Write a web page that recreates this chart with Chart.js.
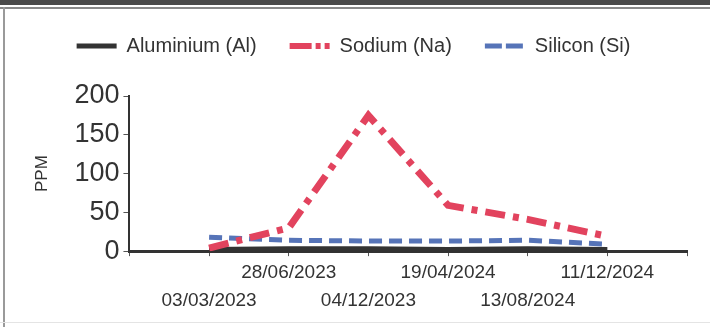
<!DOCTYPE html>
<html>
<head>
<meta charset="utf-8">
<script src="https://cdn.jsdelivr.net/npm/chart.js@4/dist/chart.umd.min.js"></script>
<style>
  html, body { margin: 0; padding: 0; background: #fff; }
  #wrap { position: relative; width: 710px; height: 327px; overflow: hidden; }
  #topband { position: absolute; left: 0; top: 0; width: 710px; height: 5px; background: #4a4a4a; }
  #topline { position: absolute; left: 0; top: 7px; width: 710px; height: 2px; background: #8a8a8a; }
  #leftline { position: absolute; left: 3px; top: 7px; width: 2px; height: 320px; background: #9a9a9a; }
  #bottomline { position: absolute; left: 0; top: 322px; width: 710px; height: 1px; background: #e4e4e4; }
  canvas { position: absolute; left: 0; top: 0; }
</style>
</head>
<body>
<div id="wrap">
  <div id="topband"></div>
  <div id="topline"></div>
  <div id="leftline"></div>
  <div id="bottomline"></div>
  <canvas id="c" width="710" height="327"></canvas>
</div>
<script>
const dates = ['03/03/2023', '28/06/2023', '04/12/2023', '19/04/2024', '13/08/2024', '11/12/2024'];
const aluminium = [2, 3, 3, 2, 3, 2];
const sodium = [4, 30, 175, 59, 41, 19];
const silicon = [18, 14, 13, 13, 14, 9];
const yTicks = [0, 50, 100, 150, 200];

// pad with an empty category on each side (the axis extends one slot beyond the data)
const labels = [''].concat(dates, ['']);
const pad = arr => [null].concat(arr, [null]);

// legend sample swatches (dashed lines) drawn as small canvases
function swatch(color, width, dash) {
  const cv = document.createElement('canvas');
  cv.width = 42; cv.height = 8;
  const g = cv.getContext('2d');
  g.strokeStyle = color; g.lineWidth = width; g.lineCap = 'butt';
  g.setLineDash(dash);
  g.beginPath(); g.moveTo(1, 4); g.lineTo(41, 4); g.stroke();
  return cv;
}
const swAl = swatch('#333333', 5, []);
const swNa = swatch('#e2435e', 6, [22, 4, 5, 4, 5, 40]);
const swSi = swatch('#5674b8', 5, [17, 4, 17, 40]);

const spacer = {
  id: 'spacer',
  beforeUpdate(chart) {
    const lg = chart.legend;
    if (lg && !lg._patched) {
      const origFit = lg.fit;
      lg.fit = function () { origFit.call(this); this.height += 30; };
      lg._patched = true;
    }
  },
  afterLayout(chart) {
    if (chart.legend) { chart.legend.left -= 4; chart.legend.right -= 4; }
  }
};

new Chart(document.getElementById('c'), {
  type: 'line',
  data: {
    labels: labels,
    datasets: [
      { label: 'Aluminium (Al)', data: pad(aluminium), borderColor: '#333333', backgroundColor: '#333333',
        borderWidth: 5, borderDash: [], order: 3, pointStyle: swAl },
      { label: 'Sodium (Na)', data: pad(sodium), borderColor: '#e2435e', backgroundColor: '#e2435e',
        borderWidth: 7, borderDash: [20, 8, 6, 8], order: 1, pointStyle: swNa },
      { label: 'Silicon (Si)', data: pad(silicon), borderColor: '#5674b8', backgroundColor: '#5674b8',
        borderWidth: 5, borderDash: [13, 7], order: 2, pointStyle: swSi }
    ]
  },
  options: {
    responsive: false,
    animation: false,
    devicePixelRatio: 1,
    spanGaps: false,
    elements: { point: { radius: 0, hoverRadius: 0 }, line: { tension: 0, borderCapStyle: 'butt' } },
    layout: { padding: { top: 3, left: 28, right: 23, bottom: 9 } },
    plugins: {
      tooltip: { enabled: false },
      legend: {
        position: 'top',
        align: 'center',
        labels: {
          usePointStyle: true,
          pointStyleWidth: 40,
          boxWidth: 40,
          boxHeight: 20,
          padding: 33,
          color: '#333333',
          font: { family: '"Liberation Sans", Arial, sans-serif', size: 20 },
          sort: (a, b) => a.datasetIndex - b.datasetIndex
        }
      }
    },
    scales: {
      x: {
        type: 'category',
        offset: false,
        grid: { display: true, drawOnChartArea: false, drawTicks: true, tickLength: 5, color: '#555555', lineWidth: 1 },
        border: { display: true, color: '#333333', width: 3 },
        ticks: {
          autoSkip: false,
          maxRotation: 0,
          minRotation: 0,
          padding: 3,
          color: '#333333',
          font: { family: '"Liberation Sans", Arial, sans-serif', size: 19, lineHeight: 1.47 },
          callback: function (value, index) {
            const t = labels[index];
            if (!t) return '';
            return (index % 2 === 1) ? ['', t] : [t, ''];
          }
        }
      },
      y: {
        min: 0,
        max: 200,
        afterBuildTicks: axis => { axis.ticks = yTicks.map(v => ({ value: v })); },
        grid: { display: true, drawOnChartArea: false, drawTicks: true, tickLength: 6, color: '#555555', lineWidth: 1 },
        border: { display: true, color: '#333333', width: 2 },
        ticks: {
          padding: 4,
          color: '#333333',
          font: { family: '"Liberation Sans", Arial, sans-serif', size: 27 }
        },
        title: {
          display: true,
          text: 'PPM',
          color: '#333333',
          padding: { top: 4, bottom: 18 },
          font: { family: '"Liberation Sans", Arial, sans-serif', size: 17 }
        }
      }
    }
  },
  plugins: [spacer]
});
</script>
</body>
</html>
